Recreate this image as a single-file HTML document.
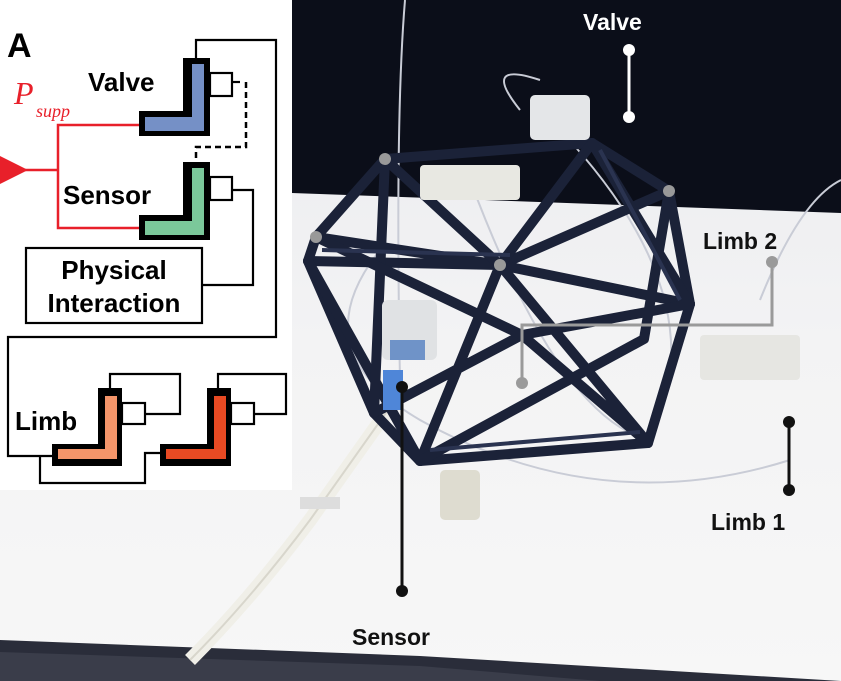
<!DOCTYPE html>
<html><head><style>
body{margin:0;width:841px;height:681px;overflow:hidden;background:#fff;font-family:"Liberation Sans",sans-serif}
svg{display:block}
</style></head><body>
<svg width="841" height="681" viewBox="0 0 841 681" xmlns="http://www.w3.org/2000/svg">
<defs>
<linearGradient id="tbl" x1="0" y1="0" x2="0" y2="1">
<stop offset="0" stop-color="#e9eaee"/><stop offset="0.5" stop-color="#f3f3f4"/><stop offset="1" stop-color="#f7f7f7"/>
</linearGradient>
</defs>
<rect x="0" y="0" width="841" height="681" fill="url(#tbl)"/>
<polygon points="292,0 841,0 841,213 292,193" fill="#0b0e19"/>
<polygon points="0,640 420,656 841,681 0,681" fill="#2a2d3a"/>
<polygon points="0,652 420,666 600,681 0,681" fill="#3a3d4a"/>
<path d="M395,400 L310,520 Q250,600 190,660" stroke="#f0efe8" stroke-width="14" fill="none"/>
<path d="M395,400 L310,520 Q250,600 190,660" stroke="#d8d6cc" stroke-width="2" fill="none"/>
<rect x="300" y="497" width="40" height="12" fill="#ddd"/>
<g stroke="#c9ccd6" stroke-width="2" fill="none">
<path d="M405,0 Q395,120 400,380"/>
<path d="M470,180 Q560,420 650,440 Q720,300 560,130"/>
<path d="M520,110 Q480,60 540,80"/>
<path d="M760,300 Q800,200 841,180"/>
<path d="M380,250 Q300,350 420,420 Q600,520 790,460"/>
</g>
<g stroke="#1b2238" stroke-width="10" stroke-linecap="round" stroke-linejoin="round" fill="none">
<path d="M316,237 L385,159 L592,143 L669,191 L500,265 Z"/>
<path d="M308,261 L500,265 L690,304"/>
<path d="M316,237 L308,261 L374,413 L420,461 L648,443 L690,304 L669,191"/>
<path d="M385,159 L500,265 L592,143"/>
<path d="M500,265 L420,461 M500,265 L648,443 M308,261 L420,461 M374,413 L522,335 L648,443"/>
<path d="M385,159 L374,413 M592,143 L690,304 M669,191 L644,339 L420,461"/>
<path d="M316,237 L522,335 L690,304"/>
</g>
<g stroke="#2a3350" stroke-width="4" fill="none">
<path d="M322,250 L510,255 M430,450 L640,432 M600,150 L680,300"/>
</g>
<g fill="#999"><circle cx="385" cy="159" r="6"/><circle cx="669" cy="191" r="6"/><circle cx="500" cy="265" r="6"/><circle cx="316" cy="237" r="6"/></g>
<rect x="530" y="95" width="60" height="45" rx="5" fill="#e4e6e8"/>
<rect x="420" y="165" width="100" height="35" rx="4" fill="#e8e8e2"/>
<rect x="382" y="300" width="55" height="60" rx="6" fill="#e0e2e4"/>
<rect x="390" y="340" width="35" height="20" fill="#6f93c8"/>
<rect x="383" y="370" width="20" height="40" fill="#4f86d8"/>
<rect x="700" y="335" width="100" height="45" rx="4" fill="#e6e6e2"/>
<rect x="440" y="470" width="40" height="50" rx="5" fill="#dedcd0"/>
<text x="583" y="30" font-size="23" font-weight="bold" fill="#fff">Valve</text>
<line x1="629" y1="50" x2="629" y2="117" stroke="#fff" stroke-width="3"/>
<circle cx="629" cy="50" r="6" fill="#fff"/><circle cx="629" cy="117" r="6" fill="#fff"/>
<text x="703" y="249" font-size="23" font-weight="bold" fill="#111">Limb 2</text>
<path d="M772,262 L772,325 L522,325 L522,383" stroke="#9a9a9a" stroke-width="3" fill="none"/>
<circle cx="772" cy="262" r="6" fill="#9a9a9a"/><circle cx="522" cy="383" r="6" fill="#9a9a9a"/>
<line x1="789" y1="422" x2="789" y2="490" stroke="#111" stroke-width="3"/>
<circle cx="789" cy="422" r="6" fill="#111"/><circle cx="789" cy="490" r="6" fill="#111"/>
<text x="711" y="530" font-size="23" font-weight="bold" fill="#111">Limb 1</text>
<line x1="402" y1="387" x2="402" y2="591" stroke="#111" stroke-width="3"/>
<circle cx="402" cy="387" r="6" fill="#111"/><circle cx="402" cy="591" r="6" fill="#111"/>
<text x="352" y="645" font-size="23" font-weight="bold" fill="#111">Sensor</text>

<rect x="0" y="0" width="292" height="490" fill="#fff"/>
<text x="7" y="57" font-size="34" font-weight="bold" fill="#000">A</text>
<text x="14" y="104" font-size="32" font-style="italic" font-family="Liberation Serif,serif" fill="#e8202a">P</text>
<text x="36" y="117" font-size="18" font-style="italic" font-family="Liberation Serif,serif" fill="#e8202a">supp</text>
<g stroke="#e8202a" stroke-width="2.5" fill="none">
<path d="M139,125 L58,125 L58,228 L139,228"/>
<line x1="20" y1="170" x2="58" y2="170"/>
</g>
<polygon points="0,156 28,170 0,184" fill="#e8202a"/>
<text x="88" y="91" font-size="26" font-weight="bold">Valve</text>
<text x="63" y="204" font-size="26" font-weight="bold">Sensor</text>
<g stroke="#000" stroke-width="2.2" fill="none">
<path d="M196,58 L196,40 L276,40 L276,337 L8,337 L8,456 L52,456"/>
<rect x="210" y="73" width="22" height="23"/>
<rect x="210" y="177" width="22" height="23"/>
<path d="M232,190 L253,190 L253,285 L203,285"/>
<rect x="26" y="248" width="176" height="75"/>
<path d="M40,456 L40,483 L145,483 L145,453 L160,453"/>
<rect x="122" y="403" width="23" height="21"/>
<path d="M145,414 L180,414 L180,374 L110,374 L110,388"/>
<rect x="231" y="403" width="23" height="21"/>
<path d="M254,414 L286,414 L286,374 L218,374 L218,388"/>
<path d="M232,82 L240,82"/>
</g>
<path d="M246,82 L246,147 L196,147 L196,162" stroke="#000" stroke-width="2.5" stroke-dasharray="6,4" fill="none"/>
<polygon points="183,58 210,58 210,136 139,136 139,111 183,111" fill="#000"/>
<polygon points="192,64 204,64 204,131 145,131 145,117 192,117" fill="#7590c6"/>
<polygon points="183,162 210,162 210,240 139,240 139,215 183,215" fill="#000"/>
<polygon points="192,168 204,168 204,235 145,235 145,221 192,221" fill="#7bc89a"/>
<polygon points="98,388 122,388 122,466 52,466 52,444 98,444" fill="#000"/>
<polygon points="105,396 117,396 117,459 58,459 58,449 105,449" fill="#f4956a"/>
<polygon points="207,388 231,388 231,466 160,466 160,444 207,444" fill="#000"/>
<polygon points="214,396 226,396 226,459 166,459 166,449 214,449" fill="#e84a23"/>
<text x="114" y="279" font-size="26" font-weight="bold" text-anchor="middle">Physical</text>
<text x="114" y="312" font-size="26" font-weight="bold" text-anchor="middle">Interaction</text>
<text x="15" y="430" font-size="26" font-weight="bold">Limb</text>
</svg>
</body></html>
